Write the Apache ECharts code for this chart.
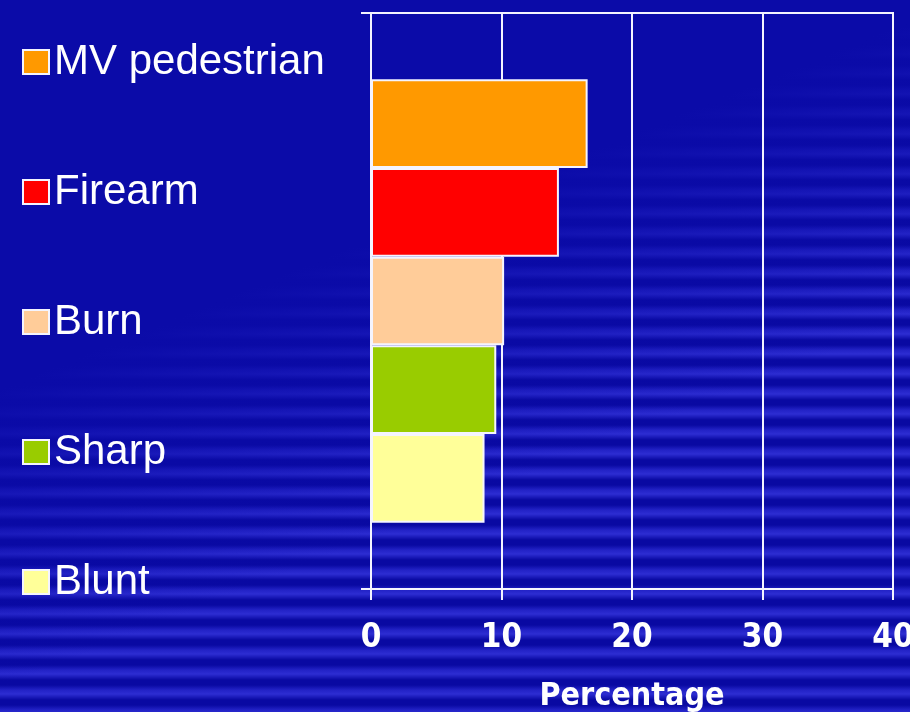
<!DOCTYPE html>
<html>
<head>
<meta charset="utf-8">
<script src="https://cdn.jsdelivr.net/npm/echarts@6/dist/echarts.min.js"></script>
<style>
  html, body { margin: 0; padding: 0; }
  #chart {
    width: 910px;
    height: 712px;
    /* dark blue slide background, stripes fading in towards the bottom right */
    background:
      linear-gradient(158deg, #0b0ba8 0%, #0b0ba8 36%, rgba(11,11,168,0) 64%),
      repeating-linear-gradient(180deg, #0909a2 0px, #0909a2 5px, #2222c6 10px, #2d2dd2 14px, #0909a2 20px),
      #0b0ba8;
  }
</style>
</head>
<body>
<div id="chart"></div>
<script>
  // data (percent)
  var seriesNames = ['MV pedestrian', 'Firearm', 'Burn', 'Sharp', 'Blunt'];
  var seriesValues = [16.6, 14.4, 10.2, 9.6, 8.7];
  var seriesColors = ['#ff9900', '#ff0000', '#ffcc99', '#99cc00', '#ffff99'];
  var categories = [''];
  var xTicks = [0, 10, 20, 30, 40];

  var white = '#f4f4ff';
  var narrow = 'Liberation Sans Narrow, Arial Narrow, DejaVu Sans Condensed, sans-serif';

  var series = seriesNames.map(function (name, i) {
    return {
      name: name,
      type: 'bar',
      barGap: '0%',
      barCategoryGap: '23%',
      itemStyle: {
        color: seriesColors[i],
        borderColor: white,
        borderWidth: 2
      },
      data: [seriesValues[i]]
    };
  });

  var option = {
    backgroundColor: 'transparent',
    animation: false,
    legend: {
      orient: 'vertical',
      left: 17,
      top: 35,
      icon: 'rect',
      itemWidth: 26,
      itemHeight: 24,
      itemGap: 86,
      textStyle: {
        color: '#ffffff',
        fontFamily: 'Liberation Sans, Arial, sans-serif',
        fontSize: 42,
        lineHeight: 44
      },
      data: seriesNames
    },
    grid: {
      left: 371,
      right: 17,
      top: 13,
      bottom: 123,
      containLabel: false,
      outerBoundsMode: 'none',
      show: true,
      borderColor: white,
      borderWidth: 2,
      backgroundColor: 'transparent'
    },
    xAxis: {
      type: 'value',
      min: xTicks[0],
      max: xTicks[xTicks.length - 1],
      interval: 10,
      name: 'Percentage',
      nameLocation: 'middle',
      nameGap: 92,
      nameTextStyle: {
        color: '#ffffff',
        fontFamily: narrow,
        fontWeight: 'bold',
        fontSize: 32
      },
      axisLine: { show: true, lineStyle: { color: white, width: 2 } },
      axisTick: { show: true, length: 11, lineStyle: { color: white, width: 2 } },
      axisLabel: {
        color: '#ffffff',
        margin: 33,
        fontFamily: narrow,
        fontWeight: 'bold',
        fontSize: 33
      },
      splitLine: { show: true, lineStyle: { color: white, width: 2 } }
    },
    yAxis: {
      type: 'category',
      inverse: true,
      data: categories,
      axisLine: { show: true, lineStyle: { color: white, width: 2 } },
      axisTick: { show: true, length: 10, lineStyle: { color: white, width: 2 } },
      axisLabel: { show: false }
    },
    series: series
  };

  var chart = echarts.init(document.getElementById('chart'));
  chart.setOption(option);
</script>
</body>
</html>
